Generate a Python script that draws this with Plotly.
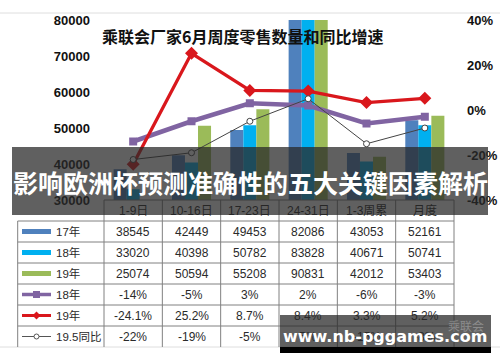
import plotly.graph_objects as go

# ---------------- data ----------------
categories = ["1-9日", "10-16日", "17-23日", "24-31日", "1-3周累", "月度"]
sales_17 = [38545, 42449, 49453, 82086, 43053, 52161]
sales_18 = [33020, 40398, 50782, 83828, 40671, 50741]
sales_19 = [25074, 50594, 55208, 90831, 42012, 53403]
growth_18 = [-14, -5, 3, 2, -6, -3]
growth_19 = [-24.1, 25.2, 8.7, 8.4, 3.3, 5.2]
growth_195 = [-22, -19, -5, 5, -15, -8]
left_ticks = [30000, 40000, 50000, 60000, 70000, 80000]
right_ticks = [-40, -20, 0, 20, 40]
row_labels = ["17年", "18年", "19年", "18年", "19年", "19.5同比"]
title_text = "乘联会厂家6月周度零售数量和同比增速"
banner_text = "影响欧洲杯预测准确性的五大关键因素解析"
watermark_text = "www.nb-pggames.com"
logo_text = "乘联会"

# ---------------- style ----------------
C17, C18, C19 = "#4F81BD", "#00B0F0", "#9BBB59"
CPUR, CRED, CBLK = "#8064A2", "#D9171C", "#444444"
FONT = "Liberation Sans, Arial, Noto Sans CJK SC, sans-serif"
CJK = "Noto Sans CJK SC, sans-serif"

W, H = 500, 362
L, R, T, B = 104, 46, 20, 162
PW, PH = W - L - R, H - T - B
n = len(categories)


def px(x):
    return (x - L) / PW


def py(y):
    return (T + PH - y) / PH


def col_edge(i):
    return i / n


def col_center(i):
    return (i + 0.5) / n


def ann(**kw):
    d = dict(xref="paper", yref="paper", xanchor="center", yanchor="middle", showarrow=False)
    d.update(kw)
    return d


fig = go.Figure()
for name, vals, col in [("17年", sales_17, C17), ("18年", sales_18, C18), ("19年", sales_19, C19)]:
    fig.add_trace(go.Bar(x=categories, y=vals, name=name, marker_color=col,
                         marker_line_width=0, showlegend=False, yaxis="y"))

fig.add_trace(go.Scatter(x=categories, y=growth_18, name="18年", mode="lines+markers",
                         line=dict(color=CPUR, width=4.5),
                         marker=dict(symbol="square", size=8, color=CPUR),
                         yaxis="y2", showlegend=False))
fig.add_trace(go.Scatter(x=categories, y=growth_19, name="19年", mode="lines+markers",
                         line=dict(color=CRED, width=3.3),
                         marker=dict(symbol="diamond", size=10, color=CRED),
                         yaxis="y2", showlegend=False))
fig.add_trace(go.Scatter(x=categories, y=growth_195, name="19.5同比", mode="lines+markers",
                         line=dict(color=CBLK, width=1),
                         marker=dict(symbol="circle", size=6, color="white",
                                     line=dict(color=CBLK, width=1)),
                         yaxis="y2", showlegend=False))

shapes = []
annotations = []

# outer picture border
shapes.append(dict(type="line", xref="paper", yref="paper", x0=px(0), x1=px(500),
                   y0=py(13), y1=py(13), line=dict(color="#dedede", width=1)))
shapes.append(dict(type="line", xref="paper", yref="paper", x0=px(0), x1=px(500),
                   y0=py(347), y1=py(347), line=dict(color="#dedede", width=1)))

# table grid
TL = "#808080"
row_h = 21
y_top = 200
row_lines = [y_top + row_h * k for k in range(0, 7)]
shapes.append(dict(type="line", xref="paper", yref="paper", x0=col_edge(0), x1=col_edge(n),
                   y0=py(y_top), y1=py(y_top), line=dict(color=TL, width=1)))
for yl in row_lines[1:]:
    shapes.append(dict(type="line", xref="paper", yref="paper", x0=px(17.7), x1=col_edge(n),
                       y0=py(yl), y1=py(yl), line=dict(color=TL, width=1)))
shapes.append(dict(type="line", xref="paper", yref="paper", x0=px(17.7), x1=px(17.7),
                   y0=py(row_lines[1]), y1=py(347), line=dict(color=TL, width=1)))
for i in range(n + 1):
    shapes.append(dict(type="line", xref="paper", yref="paper", x0=col_edge(i), x1=col_edge(i),
                       y0=py(y_top), y1=py(347), line=dict(color=TL, width=1)))

# header texts
for i, c in enumerate(categories):
    annotations.append(ann(x=col_center(i), y=py(y_top + row_h / 2), text=c,
                           font=dict(family=FONT, size=12, color="#222")))


def fmt_pct(v):
    return f"{v:g}%"


rows = [
    (sales_17, str), (sales_18, str), (sales_19, str),
    (growth_18, fmt_pct), (growth_19, fmt_pct), (growth_195, fmt_pct),
]
for r, (vals, f) in enumerate(rows):
    yc = y_top + row_h * (r + 1) + row_h / 2
    for i, v in enumerate(vals):
        annotations.append(ann(x=col_center(i), y=py(yc), text=f(v),
                               font=dict(family=FONT, size=12, color="#2a2a2a")))
    annotations.append(ann(x=px(54), y=py(yc), xanchor="left", text=row_labels[r],
                           font=dict(family=FONT, size=11.5, color="#2a2a2a")))

# legend keys inside table
kx0, kx1 = 22, 51
kc = (kx0 + kx1) / 2
for r in range(6):
    yc = y_top + row_h * (r + 1) + row_h / 2
    if r < 3:
        col = [C17, C18, C19][r]
        shapes.append(dict(type="rect", xref="paper", yref="paper", x0=px(kx0), x1=px(kx1),
                           y0=py(yc - 2.5), y1=py(yc + 2.5), fillcolor=col, line=dict(width=0)))
    elif r == 3:
        shapes.append(dict(type="line", xref="paper", yref="paper", x0=px(kx0), x1=px(kx1),
                           y0=py(yc), y1=py(yc), line=dict(color=CPUR, width=3.5)))
        shapes.append(dict(type="rect", xref="paper", yref="paper", x0=px(kc - 3.5), x1=px(kc + 3.5),
                           y0=py(yc - 3.5), y1=py(yc + 3.5), fillcolor=CPUR, line=dict(width=0)))
    elif r == 4:
        shapes.append(dict(type="line", xref="paper", yref="paper", x0=px(kx0), x1=px(kx1),
                           y0=py(yc), y1=py(yc), line=dict(color=CRED, width=3)))
        shapes.append(dict(type="path", xref="paper", yref="paper",
                           path=f"M {px(kc-4)} {py(yc)} L {px(kc)} {py(yc-4)} L {px(kc+4)} {py(yc)} L {px(kc)} {py(yc+4)} Z",
                           fillcolor=CRED, line=dict(width=0)))
    else:
        shapes.append(dict(type="line", xref="paper", yref="paper", x0=px(kx0), x1=px(kx1),
                           y0=py(yc), y1=py(yc), line=dict(color="#555", width=1)))
        shapes.append(dict(type="circle", xref="paper", yref="paper", x0=px(kc - 2.5), x1=px(kc + 2.5),
                           y0=py(yc - 2.5), y1=py(yc + 2.5), fillcolor="white",
                           line=dict(color="#555", width=1)))

# title
annotations.append(ann(x=px(242), y=py(36), text=f"<b>{title_text}</b>",
                       font=dict(family=CJK, size=16, color="#111")))

# banner overlay (box, then text)
annotations.append(ann(x=px(250), y=py(181), width=476, height=68, borderpad=0, borderwidth=0,
                       bgcolor="rgba(40,40,40,0.74)", text=" ", font=dict(size=6)))
annotations.append(ann(x=px(250), y=py(182), text=f"<b>{banner_text}</b>",
                       font=dict(family=CJK, size=25, color="white")))

# watermark box
annotations.append(ann(x=px(385.5), y=py(331), width=211, height=32, borderpad=0, borderwidth=0,
                       bgcolor="rgba(40,40,40,0.74)", text=" ", font=dict(size=6)))
annotations.append(ann(x=px(385.5), y=py(350), width=211, height=6, borderpad=0, borderwidth=0,
                       bgcolor="black", text=" ", font=dict(size=4)))
annotations.append(ann(x=px(466), y=py(325), text=logo_text,
                       font=dict(family=CJK, size=12, color="rgba(160,160,160,0.7)")))
annotations.append(ann(x=px(385), y=py(336), text=f"<b>{watermark_text}</b>",
                       font=dict(family="DejaVu Sans, sans-serif", size=16, color="white")))

fig.update_layout(
    template="none",
    width=W, height=H,
    margin=dict(l=L, r=R, t=T, b=B, autoexpand=False),
    paper_bgcolor="white", plot_bgcolor="white",
    barmode="group", bargap=0.33, bargroupgap=0,
    showlegend=False,
    xaxis=dict(type="category", range=[-0.5, n - 0.5], showticklabels=False, automargin=False,
               showgrid=False, zeroline=False, showline=False, ticks=""),
    yaxis=dict(range=[left_ticks[0], left_ticks[-1]], tickvals=left_ticks,
               ticktext=[f"<b>{v}</b>" for v in left_ticks], automargin=False,
               showgrid=False, zeroline=False, showline=False, ticks="",
               ticklabelstandoff=13,
               tickfont=dict(family=FONT, size=13, color="#111")),
    yaxis2=dict(range=[right_ticks[0], right_ticks[-1]], tickvals=right_ticks,
                ticktext=[f"<b>{v}%</b>" for v in right_ticks], automargin=False,
                overlaying="y", side="right",
                showgrid=False, zeroline=False, showline=False, ticks="",
                ticklabelstandoff=12,
                tickfont=dict(family=FONT, size=13, color="#111")),
    shapes=shapes,
    annotations=annotations,
)

fig.write_html("out.html", config={"displayModeBar": False},
               post_script="document.body.style.margin='0';document.body.style.overflow='hidden';")
